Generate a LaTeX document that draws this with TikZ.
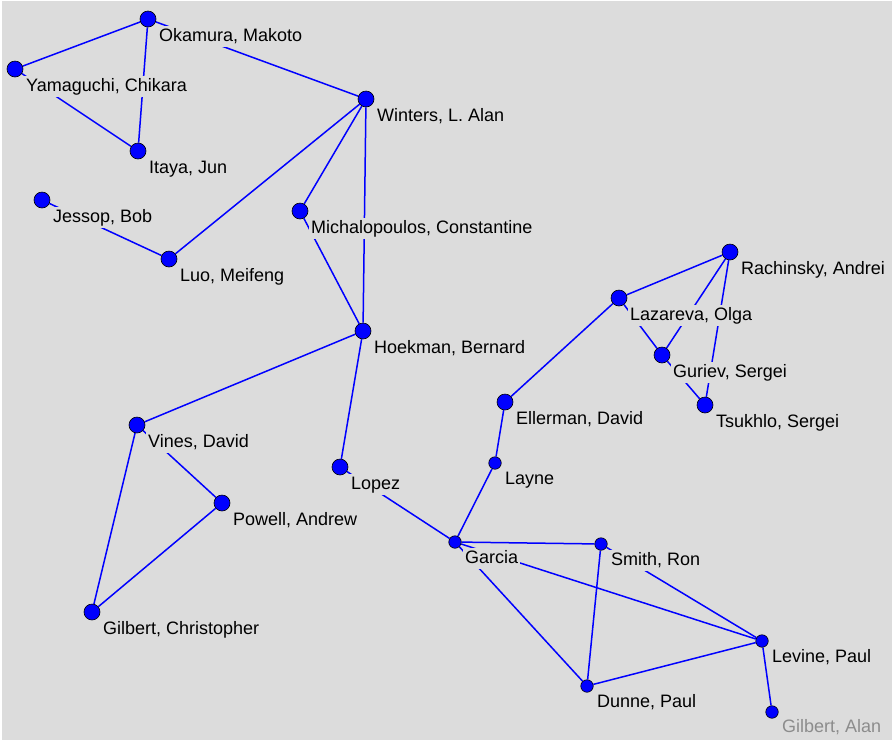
\documentclass[tikz,border=0pt]{standalone}
\usepackage{fontspec}
\setmainfont{Liberation Sans}
\usetikzlibrary{positioning}
\definecolor{bgray}{RGB}{220,220,220}
\definecolor{agray}{RGB}{140,140,140}
\pgfdeclarelayer{back}
\pgfdeclarelayer{edges}
\pgfsetlayers{back,edges,main}

\begin{document}
\begin{tikzpicture}[x=1pt, y=-1pt,
    person/.style={circle, fill=blue, draw=black, line width=0.6pt, inner sep=0pt, minimum size=16pt},
    minor/.style={person, minimum size=12.5pt},
    tag/.style={fill=bgray, inner sep=2pt, text height=13pt, text depth=4pt, font=\fontsize{18}{20}\selectfont},
    tie/.style={blue, line width=1.5pt}]

    \useasboundingbox (0,0) rectangle (892,740);
    \begin{pgfonlayer}{back}
        \fill[white] (0,0) rectangle (892,740);
        \fill[bgray] (2,1) rectangle (892,740);
    \end{pgfonlayer}

    % people
    \node[person] (oka) at (148,19) {};
    \node[person] (yam) at (15,69) {};
    \node[person] (ita) at (138,151) {};
    \node[person] (win) at (366,99) {};
    \node[person] (jes) at (42,200) {};
    \node[person] (mic) at (300,211) {};
    \node[person] (luo) at (169,259) {};
    \node[person] (rac) at (730,252) {};
    \node[person] (laz) at (619,298) {};
    \node[person] (hoe) at (363,331) {};
    \node[person] (gur) at (662,355) {};
    \node[person] (ell) at (505,402) {};
    \node[person] (tsu) at (705,405) {};
    \node[person] (vin) at (137,425) {};
    \node[person] (lop) at (340,467) {};
    \node[minor] (lay) at (495,463) {};
    \node[person] (pow) at (222,503) {};
    \node[minor] (gar) at (455,542) {};
    \node[minor] (smi) at (601,544) {};
    \node[person] (gic) at (92,612) {};
    \node[minor] (lev) at (762,641) {};
    \node[minor] (dun) at (587,686) {};
    \node[minor] (gia) at (772,712) {};

    % names
    \node[tag, below right=7pt and 9pt of oka.center] (oka-t) {Okamura, Makoto};
    \node[tag, below right=7pt and 9pt of yam.center] (yam-t) {Yamaguchi, Chikara};
    \node[tag, below right=7pt and 9pt of ita.center] (ita-t) {Itaya, Jun};
    \node[tag, below right=7pt and 9pt of win.center] (win-t) {Winters, L. Alan};
    \node[tag, below right=7pt and 9pt of jes.center] (jes-t) {Jessop, Bob};
    \node[tag, below right=7pt and 9pt of mic.center] (mic-t) {Michalopoulos, Constantine};
    \node[tag, below right=7pt and 9pt of luo.center] (luo-t) {Luo, Meifeng};
    \node[tag, below right=7pt and 9pt of rac.center] (rac-t) {Rachinsky, Andrei};
    \node[tag, below right=7pt and 9pt of laz.center] (laz-t) {Lazareva, Olga};
    \node[tag, below right=7pt and 9pt of hoe.center] (hoe-t) {Hoekman, Bernard};
    \node[tag, below right=7pt and 9pt of gur.center] (gur-t) {Guriev, Sergei};
    \node[tag, below right=7pt and 9pt of ell.center] (ell-t) {Ellerman, David};
    \node[tag, below right=7pt and 9pt of tsu.center] (tsu-t) {Tsukhlo, Sergei};
    \node[tag, below right=7pt and 9pt of vin.center] (vin-t) {Vines, David};
    \node[tag, below right=7pt and 9pt of lop.center] (lop-t) {Lopez};
    \node[tag, below right=6pt and 8pt of lay.center] (lay-t) {Layne};
    \node[tag, below right=7pt and 9pt of pow.center] (pow-t) {Powell, Andrew};
    \node[tag, below right=6pt and 8pt of gar.center] (gar-t) {Garcia};
    \node[tag, below right=6pt and 8pt of smi.center] (smi-t) {Smith, Ron};
    \node[tag, below right=7pt and 9pt of gic.center] (gic-t) {Gilbert, Christopher};
    \node[tag, below right=6pt and 8pt of lev.center] (lev-t) {Levine, Paul};
    \node[tag, below right=6pt and 8pt of dun.center] (dun-t) {Dunne, Paul};
    \node[tag, text=agray, below right=5pt and 8pt of gia.center] (gia-t) {Gilbert, Alan};

    % ties
    \begin{pgfonlayer}{edges}
        \draw[tie] (oka) -- (yam);
        \draw[tie] (oka) -- (ita);
        \draw[tie] (yam) -- (ita);
        \draw[tie] (oka) -- (win);
        \draw[tie] (win) -- (luo);
        \draw[tie] (win) -- (mic);
        \draw[tie] (win) -- (hoe);
        \draw[tie] (jes) -- (luo);
        \draw[tie] (mic) -- (hoe);
        \draw[tie] (hoe) -- (vin);
        \draw[tie] (hoe) -- (lop);
        \draw[tie] (vin) -- (pow);
        \draw[tie] (vin) -- (gic);
        \draw[tie] (pow) -- (gic);
        \draw[tie] (lop) -- (gar);
        \draw[tie] (gar) -- (lay);
        \draw[tie] (lay) -- (ell);
        \draw[tie] (ell) -- (laz);
        \draw[tie] (laz) -- (rac);
        \draw[tie] (laz) -- (gur);
        \draw[tie] (rac) -- (gur);
        \draw[tie] (rac) -- (tsu);
        \draw[tie] (gur) -- (tsu);
        \draw[tie] (gar) -- (smi);
        \draw[tie] (gar) -- (lev);
        \draw[tie] (gar) -- (dun);
        \draw[tie] (smi) -- (dun);
        \draw[tie] (smi) -- (lev);
        \draw[tie] (dun) -- (lev);
        \draw[tie] (lev) -- (gia);
    \end{pgfonlayer}

\end{tikzpicture}
\end{document}
